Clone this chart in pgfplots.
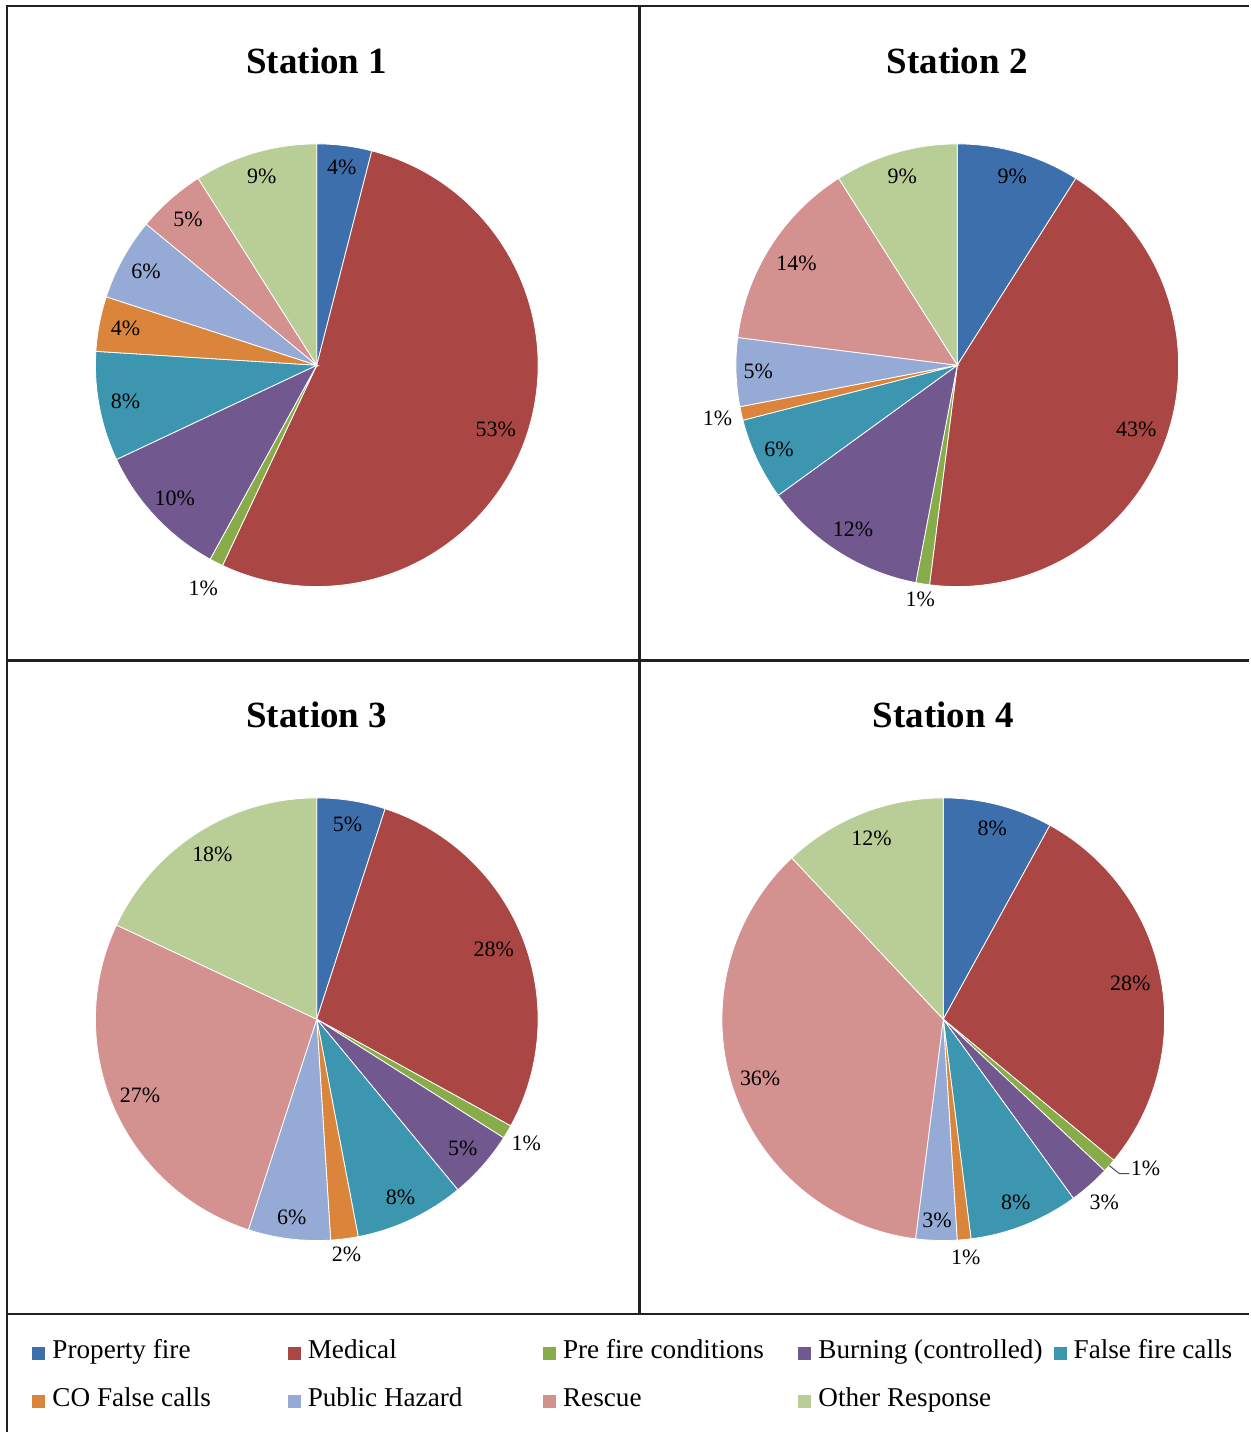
\documentclass[border=0pt]{standalone}
\usepackage{fontspec}
\setmainfont{Liberation Serif}
\usepackage{pgfplots}
\usepackage{pgfplotstable}
\pgfplotsset{compat=1.18}

% slice colours, in the order of the response categories
\definecolor{propfire}{RGB}{62,111,173}
\definecolor{medical}{RGB}{170,70,67}
\definecolor{prefire}{RGB}{137,172,74}
\definecolor{burning}{RGB}{113,88,143}
\definecolor{falsefire}{RGB}{60,150,176}
\definecolor{cofalse}{RGB}{219,132,59}
\definecolor{pubhazard}{RGB}{149,170,212}
\definecolor{rescue}{RGB}{211,145,143}
\definecolor{otherresp}{RGB}{185,206,151}
\definecolor{framecol}{RGB}{35,31,32}
\colorlet{slice0}{propfire}
\colorlet{slice1}{medical}
\colorlet{slice2}{prefire}
\colorlet{slice3}{burning}
\colorlet{slice4}{falsefire}
\colorlet{slice5}{cofalse}
\colorlet{slice6}{pubhazard}
\colorlet{slice7}{rescue}
\colorlet{slice8}{otherresp}

% share = percentage of calls; lab = label distance from the centre
% (in radii; a negative value puts the label on a leader line)
\pgfplotstableread{
share lab
4  0.90
53 0.86
1  1.13
10 0.88
8  0.88
4  0.88
6  0.88
5  0.88
9  0.89
}\stationA
\pgfplotstableread{
share lab
9  0.89
43 0.86
1  1.07
12 0.88
6  0.89
1  1.11
5  0.90
14 0.86
9  0.89
}\stationB
\pgfplotstableread{
share lab
5  0.89
28 0.86
1  1.10
5  0.88
8  0.89
2  1.07
6  0.90
27 0.87
18 0.88
}\stationC
\pgfplotstableread{
share lab
8  0.89
28 0.86
1  -1
3  1.10
8  0.89
1  1.08
3  0.91
36 0.87
12 0.88
}\stationD

\newcommand\pieR{110.75pt}
\newcommand\lblfont{\fontsize{11}{12}\selectfont}
\newcommand\legfont{\fontsize{13.6}{16}\selectfont}

% pie wedges, clockwise from twelve o'clock, then their labels
\newcommand\piechart[1]{%
\pgfplotsextra{%
  \pgfplotstablegetrowsof{#1}%
  \pgfmathtruncatemacro\lastrow{\pgfplotsretval-1}%
  \def\sa{90}%
  \pgfplotsforeachungrouped \i in {0,...,\lastrow}{%
    \pgfplotstablegetelem{\i}{share}\of{#1}\let\share\pgfplotsretval
    \pgfmathsetmacro\ea{\sa-3.6*\share}%
    \edef\slicecol{slice\i}%
    \fill[fill=\slicecol, draw=white, line width=0.4pt]
      (axis cs:0,0) -- (axis cs:{cos(\sa)},{sin(\sa)})
      arc[start angle=\sa, end angle=\ea, radius=\pieR] -- cycle;
    \let\sa\ea
  }%
  \def\sa{90}%
  \pgfplotsforeachungrouped \i in {0,...,\lastrow}{%
    \pgfplotstablegetelem{\i}{share}\of{#1}\let\share\pgfplotsretval
    \pgfplotstablegetelem{\i}{lab}\of{#1}\let\lab\pgfplotsretval
    \pgfmathsetmacro\ea{\sa-3.6*\share}%
    \pgfmathsetmacro\ma{(\sa+\ea)/2}%
    \ifdim\lab pt<0pt
      \draw[black!70, line width=0.5pt]
        (axis cs:{cos(\ma)},{sin(\ma)}) -- ++(5pt,-4pt) -- ++(5pt,0pt)
        node[anchor=base west, inner sep=0.5pt, yshift=-1pt, font=\lblfont, text=black] {\share\%};
    \else
      \node[font=\lblfont, inner sep=0pt]
        at (axis cs:{\lab*cos(\ma)},{\lab*sin(\ma)}) {\share\%};
    \fi
    \let\sa\ea
  }%
}}

\pgfplotsset{
  pieaxis/.style={
    anchor=center, scale only axis,
    width=221.5pt, height=221.5pt,
    xmin=-1, xmax=1, ymin=-1, ymax=1,
    axis lines=none, ticks=none, clip=false,
    every axis title/.style={at={(0.5,1)}, anchor=base, yshift=35pt,
      font=\bfseries\fontsize{18.5}{22}\selectfont},
  },
}

\begin{document}
\begin{tikzpicture}
% page frame and panel dividers (coordinates in pixels of the sheet)
\begin{scope}[x=0.5pt, y=-0.5pt]
  \path (0,0) rectangle (1250,1433);
  \draw[framecol, line width=1.1pt] (7,1433) -- (7,6) -- (1250,6);
  \draw[framecol, line width=1.1pt] (640,6) -- (640,1315);
  \draw[framecol, line width=1.1pt] (7,661) -- (1250,661);
  \draw[framecol, line width=1.1pt] (7,1315) -- (1250,1315);
\end{scope}

\begin{axis}[pieaxis, at={(158.5pt,-182.75pt)}, title={Station 1}]
  \piechart{\stationA}
\end{axis}

\begin{axis}[pieaxis, at={(479pt,-182.75pt)}, title={Station 2}]
  \piechart{\stationB}
\end{axis}

\begin{axis}[pieaxis, at={(158.5pt,-510pt)}, title={Station 3},
  legend columns=5,
  legend image code/.code={\fill[#1, draw=none] (0pt,-0.5pt) rectangle (6.5pt,6pt);},
  legend style={at={(-0.1422,-0.2223)}, anchor=north west,
    draw=none, fill=none, inner sep=0pt, outer sep=0pt,
    column sep=0pt, row sep=10.5pt, font=\legfont,
    /tikz/every odd column/.append style={column sep=3.5pt},
    cells={anchor=base west},
    nodes={inner sep=0pt, text height=10pt, text depth=3.5pt}},
]
  \piechart{\stationC}
  \addlegendimage{fill=propfire, draw=none}
  \addlegendentry{\makebox[117.75pt][l]{Property fire}}
  \addlegendimage{fill=medical, draw=none}
  \addlegendentry{\makebox[117.75pt][l]{Medical}}
  \addlegendimage{fill=prefire, draw=none}
  \addlegendentry{\makebox[117.75pt][l]{Pre fire conditions}}
  \addlegendimage{fill=burning, draw=none}
  \addlegendentry{\makebox[117.75pt][l]{Burning (controlled)}}
  \addlegendimage{fill=falsefire, draw=none}
  \addlegendentry{False fire calls}
  \addlegendimage{fill=cofalse, draw=none}
  \addlegendentry{\makebox[117.75pt][l]{CO False calls}}
  \addlegendimage{fill=pubhazard, draw=none}
  \addlegendentry{\makebox[117.75pt][l]{Public Hazard}}
  \addlegendimage{fill=rescue, draw=none}
  \addlegendentry{\makebox[117.75pt][l]{Rescue}}
  \addlegendimage{fill=otherresp, draw=none}
  \addlegendentry{\makebox[117.75pt][l]{Other Response}}
\end{axis}

\begin{axis}[pieaxis, at={(472pt,-510pt)}, title={Station 4}]
  \piechart{\stationD}
\end{axis}
\end{tikzpicture}
\end{document}
